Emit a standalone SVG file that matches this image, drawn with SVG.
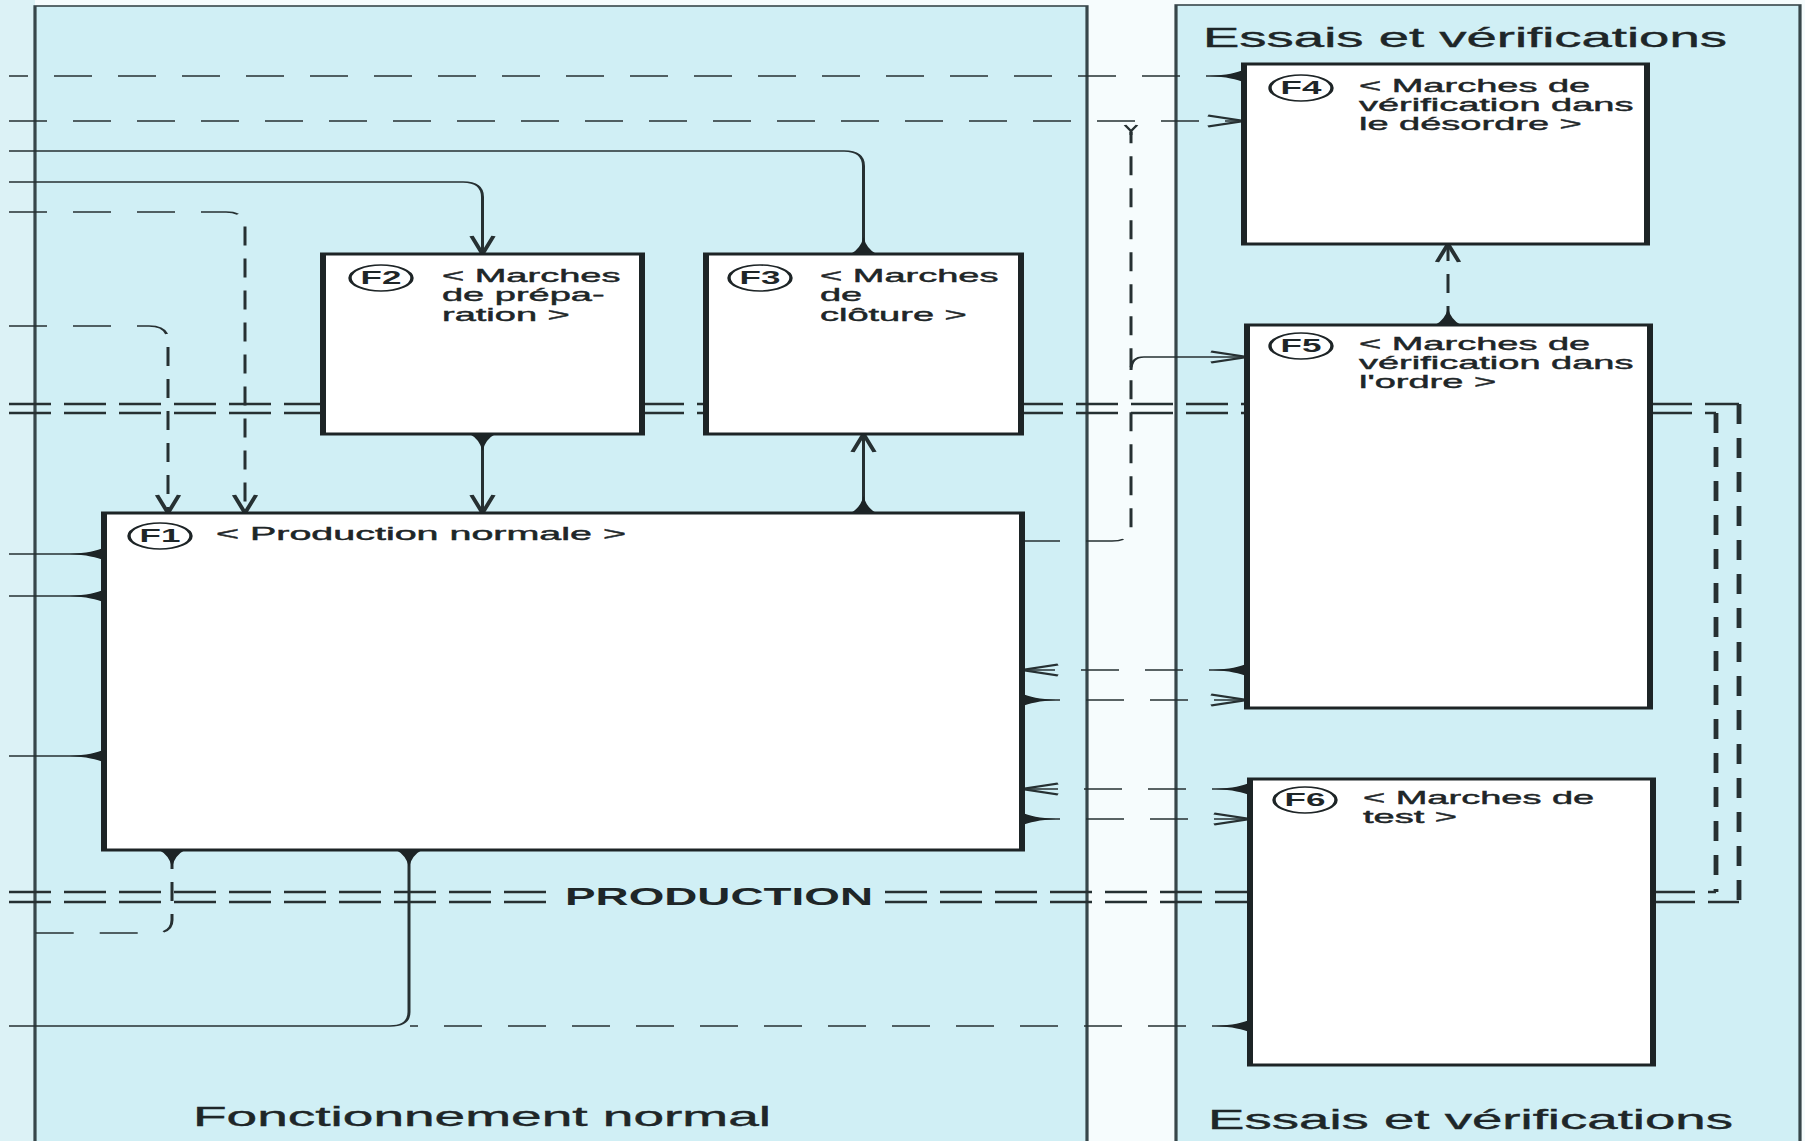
<svg xmlns="http://www.w3.org/2000/svg" width="1805" height="1141" viewBox="0 0 1805 1141">
<style>
 .panel{fill:#d0eff5;stroke:#37464a;stroke-width:1.6}
 .box{fill:#ffffff;stroke:#1d2426;stroke-width:3}
 .tag{fill:#ffffff;stroke:#1d2426;stroke-width:1.7}
 .cn{fill:none;stroke:#263032;stroke-width:1.5}
 .d{stroke-dasharray:19 13}
 .dbl{fill:none;stroke:#263032;stroke-width:2.4;stroke-dasharray:21 6.5}
 .dblv{fill:none;stroke:#263032;stroke-width:2.4;stroke-dasharray:20 14}
 text{font-family:"Liberation Sans",Arial,sans-serif;fill:#1e2628}
 .lbl{font-size:19px;stroke:#1e2628;stroke-width:0.45}
 .tg{font-size:17.5px;font-weight:bold;text-anchor:middle}
 .ttl{font-size:27.5px;stroke:#1e2628;stroke-width:0.4}
 .prod{font-size:23px;font-weight:bold}
</style>
<defs>
 <marker id="arr" markerUnits="userSpaceOnUse" viewBox="-22 -10 26 20" markerWidth="26" markerHeight="20" refX="0" refY="0" orient="auto" overflow="visible">
  <path d="M-18,-5.5 L0,0 L-18,5.5" fill="none" stroke="#263032" stroke-width="2.2"/>
 </marker>
 <marker id="tri" markerUnits="userSpaceOnUse" viewBox="-2 -8 22 16" markerWidth="22" markerHeight="16" refX="0" refY="0" orient="auto" overflow="visible">
  <path d="M0,-6.5 Q5,-1.5 17,0 Q5,1.5 0,6.5 Z" fill="#1d2426"/>
 </marker>
</defs>

<rect width="1805" height="1141" fill="#f6fcfd"/>
<g id="panels" transform="scale(2 1)">
 <rect x="0" y="0" width="17.5" height="1141" fill="#dcf2f6"/>
 <rect class="panel" x="17.5" y="6" width="526" height="1150"/>
 <rect class="panel" x="588" y="5" width="312" height="1150"/>
</g>

<g id="connectors" transform="scale(2 1)">
 <path class="cn d" d="M622,76 H4.5" marker-start="url(#tri)"/>
 <path class="cn d" d="M4.5,121 H622" marker-end="url(#arr)"/>
 <path class="cn" d="M431.75,254 V166 Q431.75,151 422,151 H4.5" marker-start="url(#tri)"/>
 <path class="cn" d="M4.5,182 H231.5 Q241.25,182 241.25,197 V254" marker-end="url(#arr)"/>
 <path class="cn d" d="M4.5,212 H113 Q122.5,212 122.5,227 V513" marker-end="url(#arr)"/>
 <path class="cn d" d="M4.5,326 H74.5 Q84,326 84,341 V513" marker-end="url(#arr)"/>
 <path class="cn" d="M52,554 H4.5" marker-start="url(#tri)"/>
 <path class="cn" d="M52,596 H4.5" marker-start="url(#tri)"/>
 <path class="cn" d="M52,756 H4.5" marker-start="url(#tri)"/>
 <path class="cn d" d="M86,850 V920 Q86,933 77,933 H13.5" marker-start="url(#tri)"/>
 <path class="cn" d="M204.5,850 V1012 Q204.5,1026 195,1026 H4.5" marker-start="url(#tri)"/>
 <path class="cn d" d="M625,1026 H205" marker-start="url(#tri)"/>
 <path class="cn" d="M241.25,434 V513" marker-start="url(#tri)" marker-end="url(#arr)"/>
 <path class="cn" d="M431.75,513 V434" marker-start="url(#tri)" marker-end="url(#arr)"/>
 <path class="cn d" d="M511,541 H556 Q565.5,541 565.5,528 V132"/>
 <path class="cn" d="M562.5,125 L565.5,131 L568.5,125 M565.5,131 V135"/>
 <path class="cn" d="M565.5,370 Q565.5,357 572,357 H623.5" marker-end="url(#arr)"/>
 <path class="cn d" d="M623.5,670 H511" marker-start="url(#tri)" marker-end="url(#arr)"/>
 <path class="cn d" d="M511,700 H623.5" marker-start="url(#tri)" marker-end="url(#arr)"/>
 <path class="cn d" d="M625,789 H511" marker-start="url(#tri)" marker-end="url(#arr)"/>
 <path class="cn d" d="M511,819 H625" marker-start="url(#tri)" marker-end="url(#arr)"/>
 <path class="cn d" d="M724,325 V244" marker-start="url(#tri)" marker-end="url(#arr)"/>
</g>

<g id="production-zone" transform="scale(2 1)">
 <path class="dbl" d="M4.5,404 H161.5 M4.5,413 H161.5"/>
 <path class="dbl" d="M321,404 H353 M321,413 H353"/>
 <path class="dbl" d="M510.5,404 H623.5 M510.5,413 H623.5"/>
 <path class="dbl" d="M825,404 H869.5 M825,413 H858"/>
 <path class="dblv" d="M869.5,404 V902 M858,413 V892"/>
 <path class="dbl" d="M826.5,892 H858 M826.5,902 H869.5"/>
 <path class="dbl" d="M4.5,892 H276.5 M4.5,902 H276.5"/>
 <path class="dbl" d="M442.5,892 H625 M442.5,902 H625"/>
</g>

<g id="F2" transform="scale(2 1)">
 <rect class="box" x="161.5" y="254" width="159.5" height="180"/>
 <ellipse class="tag" cx="190.5" cy="278" rx="15.5" ry="13"/>
 <text class="tg" x="190.5" y="284.5">F2</text>
 <text class="lbl" x="221" y="282">&lt; Marches<tspan x="221" dy="19.5">de prépa-</tspan><tspan x="221" dy="19.5">ration &gt;</tspan></text>
</g>
<g id="F3" transform="scale(2 1)">
 <rect class="box" x="353" y="254" width="157.5" height="180"/>
 <ellipse class="tag" cx="380" cy="278" rx="15.5" ry="13"/>
 <text class="tg" x="380" y="284.5">F3</text>
 <text class="lbl" x="410" y="282">&lt; Marches<tspan x="410" dy="19.5">de</tspan><tspan x="410" dy="19.5">clôture &gt;</tspan></text>
</g>
<g id="F1" transform="scale(2 1)">
 <rect class="box" x="52" y="513" width="459" height="337"/>
 <ellipse class="tag" cx="80" cy="536" rx="15.5" ry="13"/>
 <text class="tg" x="80" y="542.5">F1</text>
 <text class="lbl" x="108" y="540" textLength="205" lengthAdjust="spacingAndGlyphs">&lt; Production normale &gt;</text>
</g>
<g id="F4" transform="scale(2 1)">
 <rect class="box" x="622" y="64" width="201.5" height="180"/>
 <ellipse class="tag" cx="650.5" cy="88" rx="15.5" ry="13"/>
 <text class="tg" x="650.5" y="94.5">F4</text>
 <text class="lbl" x="679.5" y="92">&lt; Marches de<tspan x="679.5" dy="19">vérification dans</tspan><tspan x="679.5" dy="19">le désordre &gt;</tspan></text>
</g>
<g id="F5" transform="scale(2 1)">
 <rect class="box" x="623.5" y="325" width="201.5" height="383"/>
 <ellipse class="tag" cx="650.5" cy="346" rx="15.5" ry="13"/>
 <text class="tg" x="650.5" y="352.5">F5</text>
 <text class="lbl" x="679.5" y="350">&lt; Marches de<tspan x="679.5" dy="19">vérification dans</tspan><tspan x="679.5" dy="19">l'ordre &gt;</tspan></text>
</g>
<g id="F6" transform="scale(2 1)">
 <rect class="box" x="625" y="779" width="201.5" height="286"/>
 <ellipse class="tag" cx="652.5" cy="800" rx="15.5" ry="13"/>
 <text class="tg" x="652.5" y="806.5">F6</text>
 <text class="lbl" x="681.5" y="804">&lt; Marches de<tspan x="681.5" dy="19">test &gt;</tspan></text>
</g>

<g id="titles" transform="scale(2 1)">
 <text class="ttl" x="601.5" y="47" textLength="262" lengthAdjust="spacingAndGlyphs">Essais et vérifications</text>
 <text class="prod" x="282.5" y="905" textLength="154" lengthAdjust="spacingAndGlyphs">PRODUCTION</text>
 <text class="ttl" x="96.5" y="1126" textLength="289" lengthAdjust="spacingAndGlyphs">Fonctionnement normal</text>
 <text class="ttl" x="604" y="1129" textLength="262.5" lengthAdjust="spacingAndGlyphs">Essais et vérifications</text>
</g>
</svg>
